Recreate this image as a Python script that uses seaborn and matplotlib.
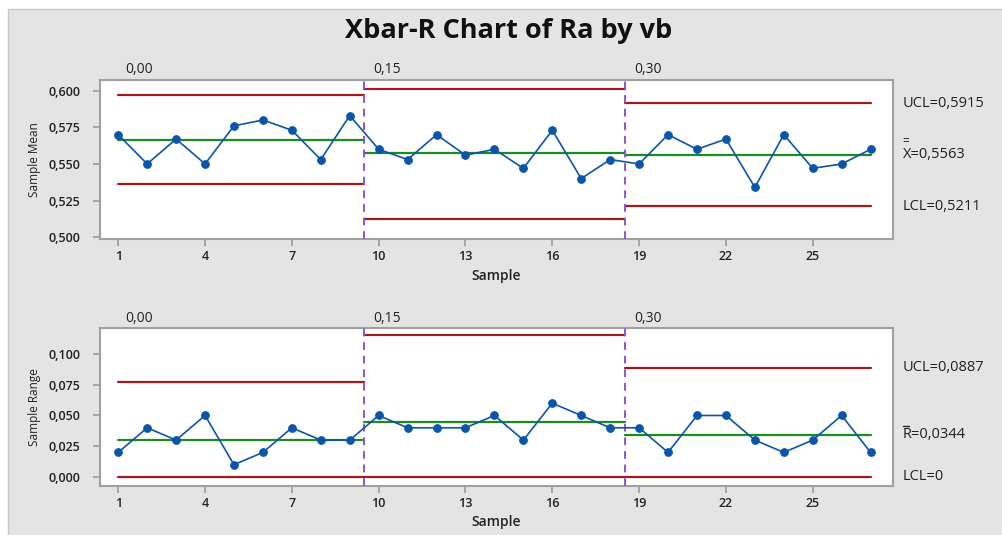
import numpy as np
import pandas as pd
import seaborn as sns
import matplotlib
matplotlib.use("Agg")
import matplotlib.pyplot as plt
from matplotlib.patches import Rectangle
from matplotlib.ticker import FuncFormatter
import matplotlib.transforms as mtransforms

# ---------------- data ----------------
samples = list(range(1, 28))
groups = ["0,00", "0,15", "0,30"]
group_bounds = [9.5, 18.5]
sample_mean = [0.570, 0.550, 0.567, 0.550, 0.576, 0.580, 0.573, 0.553, 0.583,
               0.560, 0.553, 0.570, 0.556, 0.560, 0.547, 0.573, 0.540, 0.553,
               0.550, 0.570, 0.560, 0.567, 0.534, 0.570, 0.547, 0.550, 0.560]
sample_range = [0.020, 0.040, 0.030, 0.050, 0.010, 0.020, 0.040, 0.030, 0.030,
                0.050, 0.040, 0.040, 0.040, 0.050, 0.030, 0.060, 0.050, 0.040,
                0.040, 0.020, 0.050, 0.050, 0.030, 0.020, 0.030, 0.050, 0.020]
mean_ucl = [0.5970, 0.6014, 0.5915]
mean_cl = [0.5666, 0.5575, 0.5563]
mean_lcl = [0.5364, 0.5123, 0.5211]
range_ucl = [0.0775, 0.1152, 0.0887]
range_cl = [0.0301, 0.0445, 0.0344]
range_lcl = [0.0, 0.0, 0.0]
mean_labels = ["UCL=0,5915", "X=0,5563", "LCL=0,5211"]
range_labels = ["UCL=0,0887", "R=0,0344", "LCL=0"]
xticks = [1, 4, 7, 10, 13, 16, 19, 22, 25]

# ---------------- style ----------------
sns.set_theme(style="white")
plt.rcParams["font.family"] = ["Open Sans", "DejaVu Sans"]

BLUE = "#0a55a8"
RED = "#a31a1e"
GREEN = "#1f8a1f"
PURPLE = "#8a55d8"
SPINE = "#a0a0a0"
BG = "#e4e4e4"
TXT = "#222222"

fig = plt.figure(figsize=(10.02, 5.35), dpi=100)
fig.patch.set_facecolor("white")
fig.patches.append(Rectangle((8 / 1002, -0.01), 1.0, 1 - 9 / 535 + 0.01,
                             transform=fig.transFigure, facecolor=BG,
                             edgecolor="#c8c8c8", linewidth=1.0, zorder=-10))

fig.text(0.508, 0.942, "Xbar-R Chart of Ra by vb", ha="center", va="center",
         fontsize=19.5, fontweight="bold", color="#111111")

ax1 = fig.add_axes([0.0998, 0.5533, 0.7916, 0.2972])
ax2 = fig.add_axes([0.0998, 0.0921, 0.7916, 0.2943])

seg_starts = [1, group_bounds[0], group_bounds[1]]
seg_ends = [group_bounds[0], group_bounds[1], 27]

comma = FuncFormatter(lambda v, p: f"{v:.3f}".replace(".", ","))


def draw(ax, vals, ucl, cl, lcl, ylim, yticks, ylabel, labels):
    ax.set_facecolor("white")
    for lim, col in ((ucl, RED), (lcl, RED), (cl, GREEN)):
        for i in range(3):
            d = pd.DataFrame({"x": [seg_starts[i], seg_ends[i]],
                              "y": [lim[i], lim[i]]})
            sns.lineplot(data=d, x="x", y="y", color=col, lw=1.6,
                         ax=ax, zorder=2, estimator=None)
    for b in group_bounds:
        ax.axvline(b, color=PURPLE, lw=1.4, ls=(0, (4, 3)), zorder=3)
    df = pd.DataFrame({"Sample": samples, "val": vals})
    sns.lineplot(data=df, x="Sample", y="val", color=BLUE, lw=1.2, marker="o",
                 markersize=5.5, markeredgecolor=BLUE, ax=ax, zorder=4)
    ax.set_xlim(0.37, 27.78)
    ax.set_ylim(*ylim)
    ax.set_xticks(xticks)
    ax.set_yticks(yticks)
    ax.yaxis.set_major_formatter(comma)
    for s in ax.spines.values():
        s.set_color(SPINE)
        s.set_linewidth(1.5)
    ax.tick_params(axis="both", direction="out", length=5, width=1.3,
                   color=SPINE, labelsize=9, labelcolor=TXT)
    ax.tick_params(axis="x", bottom=True, pad=3)
    ax.tick_params(axis="y", left=True, pad=9)
    for t in ax.get_xticklabels() + ax.get_yticklabels():
        t.set_fontweight("semibold")
    ax.set_xlabel("Sample", fontsize=10, fontweight="semibold", color=TXT,
                  labelpad=4)
    ax.set_ylabel(ylabel, fontsize=8.5, color=TXT)
    ax.yaxis.set_label_coords(-0.074, 0.5)
    # group labels
    tr = mtransforms.blended_transform_factory(ax.transData, ax.transAxes)
    for gx, g in zip([1.23, 9.82, 18.83], groups):
        ax.text(gx, 1.065, g, transform=tr, ha="left", va="center",
                fontsize=10, color=TXT)
    # right labels
    tr2 = mtransforms.blended_transform_factory(ax.transAxes, ax.transData)
    for v, lab in zip([ucl[2], cl[2], lcl[2]], labels):
        ax.text(1.012, v, lab, transform=tr2, ha="left", va="center",
                fontsize=10.5, color=TXT)
    return tr2


tr_a = draw(ax1, sample_mean, mean_ucl, mean_cl, mean_lcl, (0.4988, 0.6073),
            [0.500, 0.525, 0.550, 0.575, 0.600], "Sample Mean", mean_labels)
off_a = tr_a + mtransforms.ScaledTranslation(0, 5.0 / 72, fig.dpi_scale_trans)
ax1.text(1.0118, mean_cl[2], "=", transform=off_a, ha="left", va="bottom",
         fontsize=8.5, color=TXT)

tr_b = draw(ax2, sample_range, range_ucl, range_cl, range_lcl, (-0.0071, 0.1209),
            [0.000, 0.025, 0.050, 0.075, 0.100], "Sample Range", range_labels)
# overbar of R drawn as a short stroke just above the letter
off_b = tr_b + mtransforms.ScaledTranslation(0, 6.0 / 72, fig.dpi_scale_trans)
ax2.plot([1.0128, 1.0205], [range_cl[2], range_cl[2]], transform=off_b,
         color=TXT, lw=1.0, clip_on=False)

fig.savefig("out.png", dpi=100, facecolor=fig.get_facecolor())
